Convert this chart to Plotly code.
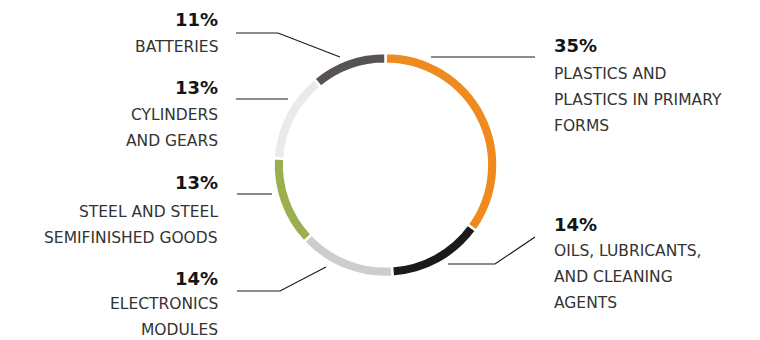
import plotly.graph_objects as go

# ---- data ----
categories = [
    "PLASTICS AND PLASTICS IN PRIMARY FORMS",
    "OILS, LUBRICANTS, AND CLEANING AGENTS",
    "ELECTRONICS MODULES",
    "STEEL AND STEEL SEMIFINISHED GOODS",
    "CYLINDERS AND GEARS",
    "BATTERIES",
]
shares = [35, 14, 14, 13, 13, 11]
pct_labels = ["35%", "14%", "14%", "13%", "13%", "11%"]
label_lines = [
    ["PLASTICS AND", "PLASTICS IN PRIMARY", "FORMS"],
    ["OILS, LUBRICANTS,", "AND CLEANING", "AGENTS"],
    ["ELECTRONICS", "MODULES"],
    ["STEEL AND STEEL", "SEMIFINISHED GOODS"],
    ["CYLINDERS", "AND GEARS"],
    ["BATTERIES"],
]
colors = ["#EE8A1E", "#1A1A1A", "#CDCDCD", "#9BAF4E", "#EAEAEA", "#585353"]

W, H = 760, 340


def px(x):
    return x / W


def py(y):
    return 1 - y / H


# donut placement (pixels)
cx, cy, R = 385.5, 165, 112

fig = go.Figure(
    go.Pie(
        labels=categories,
        values=shares,
        sort=False,
        direction="clockwise",
        rotation=0,
        hole=0.905,
        marker=dict(colors=colors, line=dict(color="white", width=2.5)),
        textinfo="none",
        hoverinfo="label+percent",
        domain=dict(x=[px(cx - R), px(cx + R)], y=[py(cy + R), py(cy - R)]),
        showlegend=False,
    )
)

# label layout: (side, x anchor px, pct y, first line y)
label_pos = [
    ("right", 552, 46, 74),
    ("right", 552, 224, 251),
    ("left", 220, 278, 304),
    ("left", 220, 182, 212),
    ("left", 220, 88, 115),
    ("left", 220, 19, 47),
]
line_step = 26

# leader lines (pixel polylines)
leaders = [
    [(431, 57), (535, 57)],
    [(448, 264), (495, 264), (535, 237)],
    [(237, 291), (280, 291), (326, 267)],
    [(237, 194), (272, 194)],
    [(236, 99), (288, 99)],
    [(236, 33), (278, 33), (340, 57)],
]

annotations = []
text_color = "#333333"
for i in range(len(categories)):
    side, xa, ypct, yfirst = label_pos[i]
    anchor = "left" if side == "right" else "right"
    annotations.append(dict(
        x=px(xa), y=py(ypct), xref="paper", yref="paper",
        text="<b>" + pct_labels[i] + "</b>", showarrow=False,
        xanchor=anchor, yanchor="middle",
        font=dict(family="DejaVu Sans", size=18, color="#151515"),
    ))
    for k, t in enumerate(label_lines[i]):
        annotations.append(dict(
            x=px(xa), y=py(yfirst + k * line_step), xref="paper", yref="paper",
            text=t, showarrow=False, xanchor=anchor, yanchor="middle",
            font=dict(family="DejaVu Sans", size=15.5, color=text_color),
        ))

shapes = []
for pts in leaders:
    path = "M " + " L ".join(f"{px(x)},{py(y)}" for x, y in pts)
    shapes.append(dict(type="path", path=path, xref="paper", yref="paper",
                       line=dict(color="#1A1A1A", width=1.2)))

fig.update_layout(
    width=W, height=H,
    margin=dict(l=0, r=0, t=0, b=0),
    paper_bgcolor="white", plot_bgcolor="white",
    annotations=annotations, shapes=shapes,
)

fig.write_html("out.html")
